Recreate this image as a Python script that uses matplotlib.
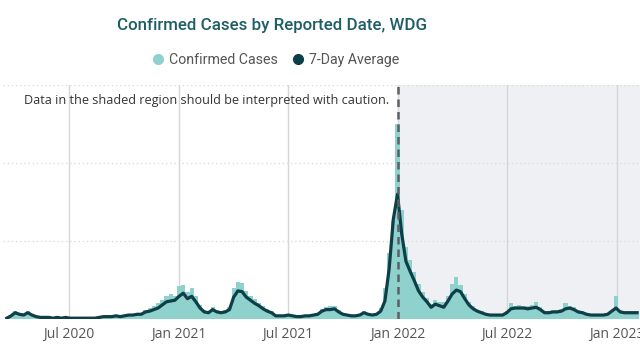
import pandas as pd
import matplotlib
matplotlib.use('Agg')
import matplotlib.pyplot as plt
from matplotlib.lines import Line2D

# weekly values (start of series 2020-03-20)
start_date = '2020-03-20'
avg_7day = [1, 4, 8, 6, 5, 8, 5, 3, 2, 2, 2, 1, 2, 1, 2, 1, 1, 1, 1, 1,
            1, 1, 2, 3, 3, 3, 4, 3, 4, 5, 5, 6, 6, 9, 10, 12, 14, 18, 22, 23,
            24, 29, 33, 26, 29, 22, 14, 9, 8, 12, 9, 8, 9, 12, 28, 36, 35, 28, 24, 20,
            17, 13, 10, 8, 4, 4, 4, 5, 4, 3, 3, 4, 4, 5, 6, 10, 12, 12, 13, 9,
            6, 5, 4, 4, 5, 8, 6, 5, 6, 10, 23, 64, 128, 160, 109, 74, 61, 49, 36, 28,
            22, 15, 19, 17, 15, 23, 32, 37, 35, 26, 18, 13, 10, 8, 6, 5, 5, 5, 5, 8,
            13, 14, 14, 14, 13, 14, 15, 12, 8, 8, 9, 9, 10, 13, 14, 12, 9, 8, 6, 5,
            5, 5, 5, 6, 10, 14, 9, 8, 8, 8, 8]
confirmed = [2, 5, 10, 8, 6, 10, 6, 4, 3, 3, 2, 2, 2, 2, 2, 2, 1, 2, 1, 2,
             2, 2, 3, 4, 4, 4, 5, 4, 5, 6, 6, 8, 8, 11, 14, 16, 20, 24, 30, 32,
             30, 42, 44, 34, 40, 30, 18, 11, 10, 15, 12, 10, 11, 15, 40, 48, 46, 36, 30, 25,
             21, 17, 13, 10, 5, 5, 5, 6, 5, 4, 4, 5, 5, 6, 8, 13, 15, 16, 17, 11,
             8, 6, 5, 5, 6, 10, 8, 6, 8, 14, 40, 85, 125, 250, 140, 92, 75, 60, 45, 35,
             27, 19, 24, 22, 22, 30, 45, 54, 44, 32, 22, 16, 12, 10, 8, 6, 6, 6, 6, 10,
             20, 17, 18, 17, 16, 18, 22, 15, 10, 10, 11, 12, 13, 20, 17, 15, 11, 10, 8, 6,
             6, 6, 6, 8, 12, 30, 11, 10, 10, 10, 10]
tick_dates = ['2020-07-01', '2021-01-01', '2021-07-01', '2022-01-01', '2022-07-01', '2023-01-01']
tick_labels = ['Jul 2020', 'Jan 2021', 'Jul 2021', 'Jan 2022', 'Jul 2022', 'Jan 2023']
caution_date = '2021-12-31'

dates = pd.date_range(start_date, periods=len(avg_7day), freq='7D')

teal = '#8fd1cd'
dark = '#0e3e47'

fig = plt.figure(figsize=(6.4, 3.6), dpi=100)
ax = fig.add_axes([0.005, 0.114, 0.995, 0.65])

x0 = pd.Timestamp('2020-03-14')
x1 = pd.Timestamp('2023-02-08')
ax.set_xlim(x0, x1)
ax.set_ylim(0, 300)

# shaded region after the caution line
ax.axvspan(pd.Timestamp(caution_date), x1, color='#eef0f3', zorder=0)

# gridlines
for t in tick_dates:
    ax.axvline(pd.Timestamp(t), color='#d6d6d6', lw=1, zorder=1)
for yv in [100, 200, 300]:
    ax.axhline(yv, color='#dcdcdc', lw=1, ls=(0, (1, 2)), zorder=1)

ax.bar(dates, confirmed, width=7, color=teal, edgecolor='none', zorder=2)
ax.plot(dates, avg_7day, color=dark, lw=2.3, zorder=3, solid_joinstyle='round')

ax.axvline(pd.Timestamp(caution_date), color='#5a6066', lw=1.8, ls=(0, (3, 2)), zorder=4)

ax.text(pd.Timestamp('2020-04-18'), 280, 'Data in the shaded region should be interpreted with caution.',
        fontsize=9.1, color='#333333', family='Open Sans', va='center', zorder=5)

ax.set_xticks([pd.Timestamp(t) for t in tick_dates])
ax.set_xticklabels(tick_labels, fontsize=10, color='#555555', family='Open Sans')
ax.tick_params(axis='x', length=0, pad=6)
ax.set_yticks([])
for s in ax.spines.values():
    s.set_visible(False)

fig.text(0.425, 0.928, 'Confirmed Cases by Reported Date, WDG', ha='center', va='center',
         fontsize=12.2, color='#1d5d66', family='Roboto', fontweight='medium')

handles = [Line2D([], [], marker='o', ls='', color=teal, markersize=7),
           Line2D([], [], marker='o', ls='', color=dark, markersize=7)]
fig.legend(handles, ['Confirmed Cases', '7-Day Average'], loc='center', bbox_to_anchor=(0.424, 0.833),
           ncol=2, frameon=False, handletextpad=-0.2, columnspacing=0.4,
           prop={'family': 'Roboto', 'size': 10.2}, labelcolor='#555555')

fig.savefig('out.png', dpi=100)
